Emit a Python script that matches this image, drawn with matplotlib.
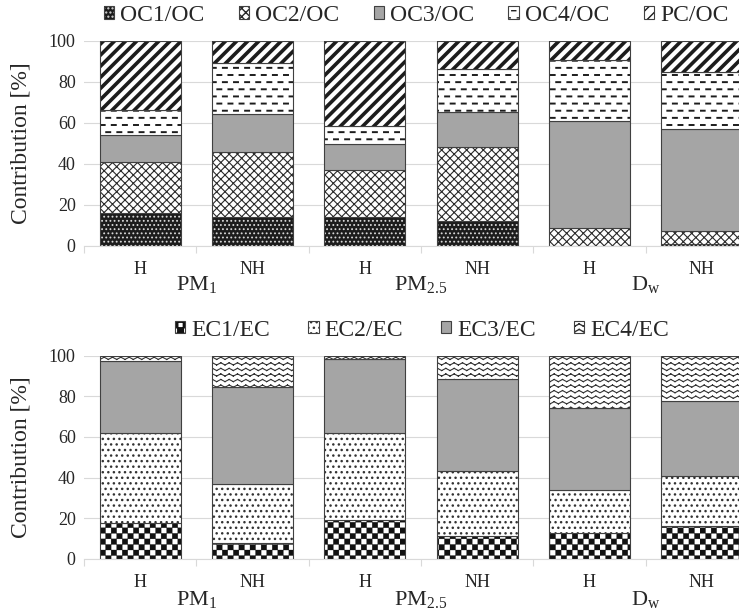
import warnings
import numpy as np
import matplotlib
matplotlib.use('Agg')
import matplotlib.pyplot as plt
import matplotlib.hatch as mhatch
from matplotlib.path import Path
from matplotlib.legend_handler import HandlerTuple

warnings.filterwarnings('ignore')

# data (shares of each fraction, %)
labels = ['H', 'NH', 'H', 'NH', 'H', 'NH']
groups = ['PM$_1$', 'PM$_{2.5}$', 'D$_w$']

oc_names = ['OC1/OC', 'OC2/OC', 'OC3/OC', 'OC4/OC', 'PC/OC']
oc1 = [15.8, 14.1, 14.1, 12.2, 0.0, 1.0]
oc2 = [25.3, 31.8, 23.1, 35.8, 8.6, 6.3]
oc3 = [13.0, 18.3, 12.4, 17.5, 52.1, 49.9]
oc4 = [12.1, 24.9, 8.9, 21.0, 29.9, 27.8]
pc = [33.8, 10.9, 41.5, 13.5, 9.4, 15.0]

ec_names = ['EC1/EC', 'EC2/EC', 'EC3/EC', 'EC4/EC']
ec1 = [17.5, 7.7, 19.2, 11.0, 12.6, 15.9]
ec2 = [44.3, 29.0, 42.6, 32.4, 21.3, 24.6]
ec3 = [35.7, 48.1, 36.6, 45.1, 40.5, 37.2]
ec4 = [2.5, 15.2, 1.6, 11.5, 25.6, 22.3]


# extra fill patterns: checkerboard ('c'), zigzag ('z'), dashes ('d')
class Checker(mhatch.HatchPatternBase):
    def __init__(self, hatch, density):
        self.n = hatch.count('c') * density
        self.num_vertices = 5 * (self.n * self.n // 2)

    def set_vertices_and_codes(self, vertices, codes):
        s = 1.0 / self.n
        k = 0
        for i in range(self.n):
            for j in range(self.n):
                if (i + j) % 2:
                    continue
                x, y = i * s, j * s
                vertices[k:k + 5] = [(x, y), (x + s, y), (x + s, y + s), (x, y + s), (x, y)]
                codes[k:k + 5] = [Path.MOVETO, Path.LINETO, Path.LINETO, Path.LINETO, Path.CLOSEPOLY]
                k += 5


class ZigZag(mhatch.HatchPatternBase):
    def __init__(self, hatch, density):
        self.rows = hatch.count('z') * density
        self.teeth = 12 if self.rows else 0
        self.num_vertices = self.rows * self.teeth * 4

    def set_vertices_and_codes(self, vertices, codes):
        amp = 0.4 / self.rows
        xs = np.linspace(0, 1, 2 * self.teeth + 1)
        k = 0
        for r in range(self.rows):
            ys = (r + 0.3) / self.rows + amp * (np.arange(2 * self.teeth + 1) % 2)
            for a in range(2 * self.teeth):
                vertices[k] = (xs[a], ys[a])
                vertices[k + 1] = (xs[a + 1], ys[a + 1])
                codes[k] = Path.MOVETO
                codes[k + 1] = Path.LINETO
                k += 2


class Dashes(mhatch.HatchPatternBase):
    def __init__(self, hatch, density):
        self.rows = hatch.count('d') * 7
        self.per = 9 if self.rows else 0
        self.num_vertices = self.rows * self.per * 2

    def set_vertices_and_codes(self, vertices, codes):
        p = 1.0 / self.per
        k = 0
        for r in range(self.rows):
            y = (r + 0.5) / self.rows
            off = 0.5 * p * (r % 2)
            for d in range(self.per):
                x0 = d * p + off + 0.06 * p
                vertices[k] = (x0, y)
                vertices[k + 1] = (x0 + 0.36 * p, y)
                codes[k] = Path.MOVETO
                codes[k + 1] = Path.LINETO
                k += 2


mhatch._hatch_types.extend([Checker, ZigZag, Dashes])

plt.rcParams['font.family'] = 'Liberation Serif'
plt.rcParams['mathtext.default'] = 'regular'
plt.rcParams['hatch.linewidth'] = 1.0

text_c = '#262626'
grid_c = '#d9d9d9'
edge_c = '#404040'
gray = '#a5a5a5'

# face, hatch, hatch colour, hatch width
oc_styles = [('#1c1c1c', '....', '#d8d8d8', 0.8),
             ('white', 'xxxx', '#2a2a2a', 0.8),
             (gray, '', gray, 1.0),
             ('white', 'dd', '#1c1c1c', 1.4),
             ('white', '///', '#1c1c1c', 2.6)]
ec_styles = [('white', 'ccc', '#111111', 0.2),
             ('white', '...', '#333333', 1.0),
             (gray, '', gray, 1.0),
             ('white', 'zzz', '#333333', 0.8)]


def stacked(ax, series, styles):
    x = np.arange(len(labels))
    bottom = np.zeros(len(labels))
    handles = []
    for vals, (face, hatch, hc, hlw) in zip(series, styles):
        vals = np.array(vals)
        fill = ax.bar(x, vals, 0.72, bottom=bottom, color=face, hatch=hatch or None,
                      edgecolor=hc, linewidth=0)
        for p in fill:
            if hasattr(p, 'set_hatch_linewidth'):
                p.set_hatch_linewidth(hlw)
        edge = ax.bar(x, vals, 0.72, bottom=bottom, facecolor='none',
                      edgecolor=edge_c, linewidth=0.8)
        handles.append((fill[0], edge[0]))
        bottom += vals
    return handles


def style_axis(ax, label_pad, group_off):
    ax.set_xlim(-0.5, 5.5)
    ax.set_ylim(0, 100)
    ax.set_yticks(range(0, 101, 20))
    ax.set_xticks(range(len(labels)))
    ax.set_xticklabels(labels)
    ax.set_xticks(np.arange(-0.5, 6, 1), minor=True)
    ax.tick_params(axis='x', which='major', length=0, labelsize=13, pad=label_pad, colors=text_c)
    ax.tick_params(axis='x', which='minor', length=5, width=0.8, color=grid_c)
    ax.tick_params(axis='y', length=0, labelsize=13, pad=6, colors=text_c)
    for s in ['left', 'right', 'top']:
        ax.spines[s].set_visible(False)
    ax.spines['bottom'].set_color(grid_c)
    ax.yaxis.grid(True, color=grid_c, linewidth=0.8)
    ax.set_axisbelow(True)
    ax.set_ylabel('Contribution [%]', fontsize=17, color=text_c)
    ax.yaxis.set_label_coords(-0.078, 0.5)
    for g, name in enumerate(groups):
        ax.annotate(name, xy=(2 * g + 0.5, 0), xycoords=('data', 'axes fraction'),
                    xytext=(0, group_off), textcoords='offset points',
                    ha='center', va='center', fontsize=16, color=text_c)


fig = plt.figure(figsize=(7.39, 6.10), dpi=100)

ax1 = fig.add_axes([0.1137, 0.597, 0.912, 0.336])
h1 = stacked(ax1, [oc1, oc2, oc3, oc4, pc], oc_styles)
style_axis(ax1, 11, -28)

ax2 = fig.add_axes([0.1137, 0.084, 0.912, 0.333])
h2 = stacked(ax2, [ec1, ec2, ec3, ec4], ec_styles)
style_axis(ax2, 11, -29)

leg_kw = dict(loc='center', frameon=False, fontsize=17, handlelength=0.45, handleheight=0.45,
              handletextpad=0.25, labelcolor=text_c,
              handler_map={tuple: HandlerTuple(ndivide=1, pad=0)})
fig.legend(h1, oc_names, bbox_to_anchor=(0.563, 0.975), ncol=5, columnspacing=1.45, **leg_kw)
fig.legend(h2, ec_names, bbox_to_anchor=(0.571, 0.459), ncol=4, columnspacing=1.6, **leg_kw)

fig.savefig('out.png', dpi=100)
